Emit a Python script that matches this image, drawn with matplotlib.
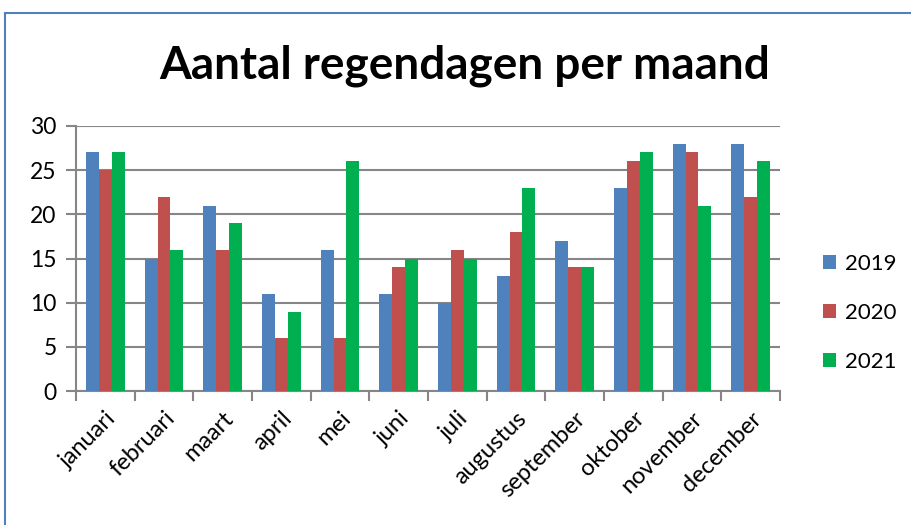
import matplotlib
matplotlib.use("Agg")
import matplotlib.pyplot as plt
from matplotlib.lines import Line2D
from matplotlib.patches import Patch
from matplotlib.transforms import ScaledTranslation
import numpy as np

months = ["januari", "februari", "maart", "april", "mei", "juni", "juli",
          "augustus", "september", "oktober", "november", "december"]
y2019 = [27, 15, 21, 11, 16, 11, 10, 13, 17, 23, 28, 28]
y2020 = [25, 22, 16, 6, 6, 14, 16, 18, 14, 26, 27, 22]
y2021 = [27, 16, 19, 9, 26, 15, 15, 23, 14, 27, 21, 26]
series = [("2019", y2019, "#4F81BD"), ("2020", y2020, "#C0504D"), ("2021", y2021, "#00B050")]
yticks = [0, 5, 10, 15, 20, 25, 30]

plt.rcParams['font.family'] = ['Lato', 'DejaVu Sans']

W, H = 912, 525
fig = plt.figure(figsize=(W / 100, H / 100), dpi=100)
ax = fig.add_axes([76 / W, 1 - 391 / H, (780 - 76) / W, (391 - 126) / H])

x = np.arange(len(months))
bw = 0.22
for i, (name, vals, col) in enumerate(series):
    ax.bar(x + (i - 1) * bw, vals, width=bw, color=col, label=name, zorder=3)

ax.set_xlim(-0.5, len(months) - 0.5)
ax.set_ylim(0, 30)
ax.set_yticks(yticks)
ax.set_yticklabels([str(v) for v in yticks], fontsize=16.5)
ax.yaxis.grid(True, color="#868686", linewidth=1.5, zorder=0)
ax.set_axisbelow(True)

ax.set_xticks(np.arange(len(months) + 1) - 0.5, minor=False)
ax.set_xticklabels([])
ax.set_xticks(x, minor=True)
labels = ax.set_xticklabels(months, minor=True, rotation=45, ha="right", va="top",
                            rotation_mode="anchor", fontsize=17)
off = ScaledTranslation(8 / 100, 0, fig.dpi_scale_trans)
for lb in labels:
    lb.set_transform(lb.get_transform() + off)
ax.tick_params(axis="x", which="major", length=7, color="#868686", width=1.5, direction="out")
ax.tick_params(axis="x", which="minor", length=0, pad=12)
ax.tick_params(axis="y", length=7, color="#868686", width=1.5, direction="out", pad=7)

for s in ["top", "right"]:
    ax.spines[s].set_visible(False)
for s in ["left", "bottom"]:
    ax.spines[s].set_color("#868686")
    ax.spines[s].set_linewidth(1.5)

fig.text(465 / W, 1 - 66 / H, "Aantal regendagen per maand", ha="center", va="center",
         fontsize=33, fontweight="bold")

handles = [Patch(facecolor=c, edgecolor="none", label=n) for n, _, c in series]
fig.legend(handles=handles, loc="center left", bbox_to_anchor=(823 / W, 1 - 313 / H),
           frameon=False, fontsize=16, handlelength=0.6, handleheight=0.6,
           labelspacing=1.3, handletextpad=0.4, borderpad=0, borderaxespad=0)

fig.add_artist(Line2D([5 / W, 1], [1 - 13 / H, 1 - 13 / H], color="#4F81BD", linewidth=1.5,
                      transform=fig.transFigure))
fig.add_artist(Line2D([5 / W, 5 / W], [1 - 13 / H, 0], color="#4F81BD", linewidth=1.5,
                      transform=fig.transFigure))

fig.savefig("out.png", dpi=100, facecolor="white")
